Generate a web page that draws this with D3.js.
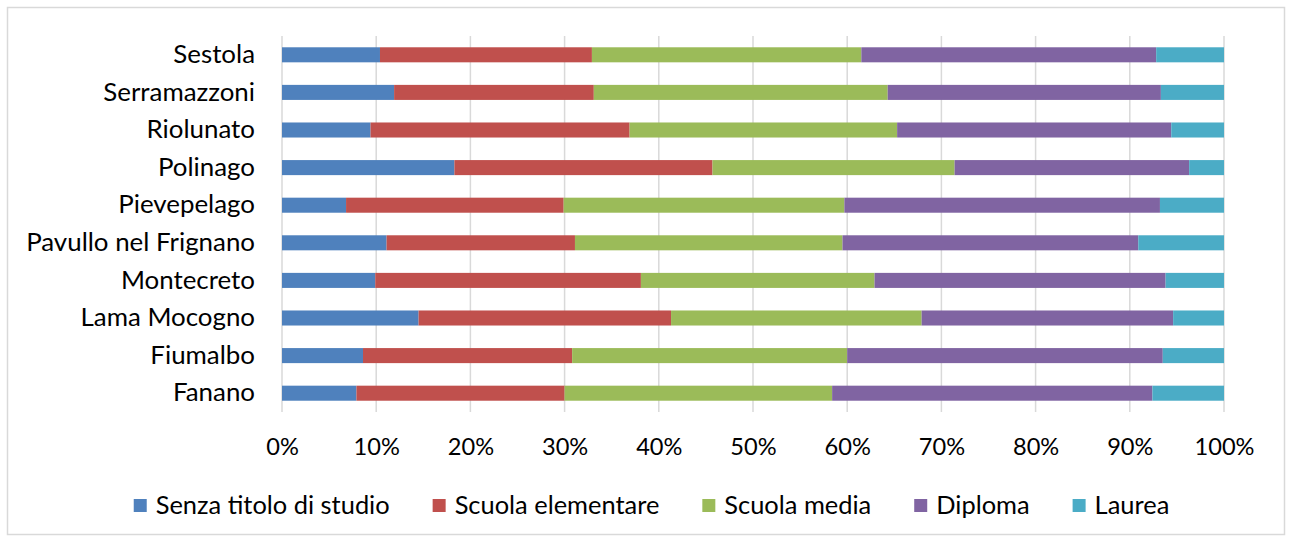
<!DOCTYPE html>
<meta charset="utf-8">
<style>
  body { margin: 0; background: white; }
  text { font-family: Lato, "Open Sans", sans-serif; fill: #000; }
</style>
<script src="https://d3js.org/d3.v7.min.js"></script>
<div id="chart"></div>
<script>

// comuni, dall'alto verso il basso
var comuni = ["Sestola", "Serramazzoni", "Riolunato", "Polinago", "Pievepelago",
  "Pavullo nel Frignano", "Montecreto", "Lama Mocogno", "Fiumalbo", "Fanano"];

var livelli = ["Senza titolo di studio", "Scuola elementare", "Scuola media", "Diploma", "Laurea"];

// quote percentuali per livello di istruzione (stesso ordine dei comuni)
var senzaTitolo = [10.4, 11.9, 9.4, 18.3, 6.8, 11.1, 9.9, 14.5, 8.6, 7.9];
var elementare  = [22.5, 21.2, 27.5, 27.4, 23.1, 20.0, 28.2, 26.8, 22.2, 22.1];
var media       = [28.6, 31.2, 28.4, 25.7, 29.8, 28.4, 24.8, 26.6, 29.2, 28.4];
var diploma     = [31.3, 29.0, 29.1, 24.9, 33.5, 31.4, 30.9, 26.7, 33.5, 34.0];
var laurea      = [7.2, 6.7, 5.6, 3.7, 6.8, 9.1, 6.2, 5.4, 6.5, 7.6];

var ticks = [0, 0.1, 0.2, 0.3, 0.4, 0.5, 0.6, 0.7, 0.8, 0.9, 1];

var colori = ["#4F81BD", "#C0504D", "#9BBB59", "#8064A2", "#4BACC6"];

var width = 1289, height = 541;
var plot = {left: 282, right: 1224, top: 36, bottom: 412};

var svg = d3.select("#chart").append("svg")
  .attr("width", width)
  .attr("height", height);

// bordo esterno
svg.append("rect")
  .attr("x", 7.5).attr("y", 7.5)
  .attr("width", 1277).attr("height", 527)
  .attr("fill", "white")
  .attr("stroke", "#d9d9d9")
  .attr("stroke-width", 1.5);

// build rows for the stack
var rows = comuni.map(function(c, i) {
  var tot = senzaTitolo[i] + elementare[i] + media[i] + diploma[i] + laurea[i];
  var r = {comune: c};
  r[livelli[0]] = senzaTitolo[i] / tot;
  r[livelli[1]] = elementare[i] / tot;
  r[livelli[2]] = media[i] / tot;
  r[livelli[3]] = diploma[i] / tot;
  r[livelli[4]] = laurea[i] / tot;
  return r;
});

var x = d3.scaleLinear().domain([0, 1]).range([plot.left, plot.right]);
var y = d3.scaleBand().domain(comuni).range([plot.top, plot.bottom]).paddingInner(0.6).paddingOuter(0.3);
var color = d3.scaleOrdinal().domain(livelli).range(colori);

// gridlines
svg.append("g")
  .selectAll("line")
  .data(ticks)
  .enter().append("line")
    .attr("x1", function(d) { return x(d); })
    .attr("x2", function(d) { return x(d); })
    .attr("y1", plot.top)
    .attr("y2", plot.bottom)
    .attr("stroke", "#d9d9d9")
    .attr("stroke-width", 1.5);

var series = d3.stack().keys(livelli)(rows);

svg.append("g")
  .selectAll("g")
  .data(series)
  .enter().append("g")
    .attr("fill", function(d) { return color(d.key); })
  .selectAll("rect")
  .data(function(d) { return d; })
  .enter().append("rect")
    .attr("x", function(d) { return x(d[0]); })
    .attr("y", function(d) { return y(d.data.comune); })
    .attr("width", function(d) { return x(d[1]) - x(d[0]); })
    .attr("height", y.bandwidth());

// size fonts so the text widths match the original (Calibri)
function fitSize(str, target, base) {
  var t = svg.append("text").style("font-size", base + "px").text(str);
  var w = t.node().getComputedTextLength();
  t.remove();
  return base * target / w;
}
var catSize = fitSize("Pavullo nel Frignano", 229, 26);
var tickSize = fitSize("100%", 60, 26);
var legSize = fitSize("Senza titolo di studio", 234, 26);

// y axis
var yAxis = svg.append("g")
  .attr("transform", "translate(" + plot.left + ",0)")
  .call(d3.axisLeft(y).tickSize(0).tickPadding(27));
yAxis.select(".domain").remove();
yAxis.selectAll("text")
  .style("font-size", catSize + "px")
  .style("font-family", "Lato, 'Open Sans', sans-serif");

// x axis
var xAxis = svg.append("g")
  .attr("transform", "translate(0," + plot.bottom + ")")
  .call(d3.axisBottom(x).tickValues(ticks).tickFormat(d3.format(".0%")).tickSize(0).tickPadding(26));
xAxis.select(".domain").remove();
xAxis.selectAll("text")
  .style("font-size", tickSize + "px")
  .style("font-family", "Lato, 'Open Sans', sans-serif");

// legenda
var legend = svg.append("g");
var sw = 13, gapText = 9, gapItem = 43;
var items = legend.selectAll("g")
  .data(livelli)
  .enter().append("g");
items.append("rect")
  .attr("width", sw).attr("height", sw)
  .attr("y", 499)
  .attr("fill", function(d) { return color(d); });
items.append("text")
  .attr("x", sw + gapText)
  .attr("y", 505)
  .attr("dy", "0.35em")
  .style("font-size", legSize + "px")
  .text(function(d) { return d; });

var pos = 0;
items.each(function() {
  var w = d3.select(this).select("text").node().getComputedTextLength();
  d3.select(this).attr("data-x", pos);
  this.__x = pos;
  pos += sw + gapText + w + gapItem;
});
var total = pos - gapItem;
var start = 651.5 - total / 2;
items.attr("transform", function() { return "translate(" + (start + this.__x) + ",0)"; });

</script>
